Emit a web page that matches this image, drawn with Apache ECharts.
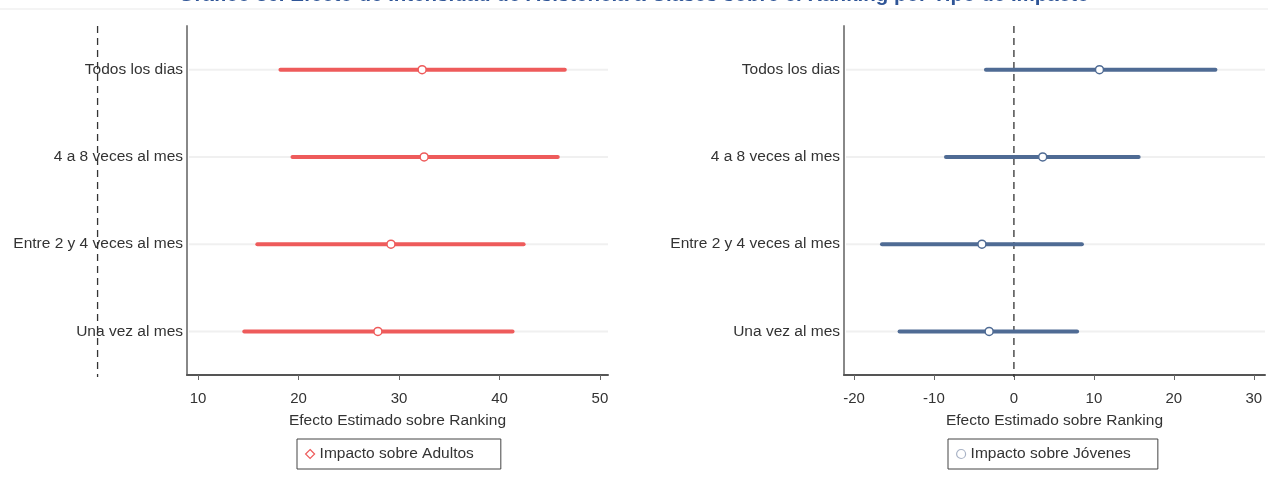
<!DOCTYPE html>
<html>
<head>
<meta charset="utf-8">
<script src="https://cdn.jsdelivr.net/npm/echarts@6/dist/echarts.min.js"></script>
<style>
  html, body { margin: 0; padding: 0; background: #fff; }
  #chart { width: 1268px; height: 481px; }
</style>
</head>
<body>
<div id="chart"></div>
<script>
// categorias de frecuencia
var categories = ['Todos los dias', '4 a 8 veces al mes', 'Entre 2 y 4 veces al mes', 'Una vez al mes']
// impacto sobre adultos (intervalo y estimado)
var adultosLow = [18.2, 19.4, 15.9, 14.6]
var adultosEst = [32.3, 32.5, 29.2, 27.9]
var adultosHigh = [46.5, 45.8, 42.4, 41.3]
// impacto sobre jovenes
var jovenesLow = [-3.5, -8.5, -16.5, -14.3]
var jovenesEst = [10.7, 3.6, -4.0, -3.1]
var jovenesHigh = [25.2, 15.6, 8.5, 7.9]
// etiquetas del eje
var adultosTicks = [10, 20, 30, 40, 50]
var jovenesTicks = [-20, -10, 0, 10, 20, 30]
var refValue = 0

var FONT = 'Liberation Sans, Arial, sans-serif'
var RED = '#EE5B5B'
var BLUE = '#4F6B94'

function ciData (low, high) {
  return categories.map(function (c, i) { return [low[i], high[i], c] })
}
function estData (est) {
  return categories.map(function (c, i) { return [est[i], c] })
}

// linea del intervalo + linea guia tenue
function ciItem (color) {
  return function (params, api) {
    var cs = params.coordSys
    var p1 = api.coord([api.value(0), api.value(2)])
    var p2 = api.coord([api.value(1), api.value(2)])
    return {
      type: 'group',
      children: [
        { type: 'line', shape: { x1: cs.x + 2, y1: p1[1], x2: cs.x + cs.width, y2: p1[1] }, style: { stroke: '#f0f0f0', lineWidth: 2 } },
        { type: 'line', shape: { x1: p1[0], y1: p1[1], x2: p2[0], y2: p2[1] }, style: { stroke: color, lineWidth: 4, lineCap: 'round' } }
      ]
    }
  }
}

// linea vertical punteada en 0
function refItem (params, api) {
  var cs = params.coordSys
  var p = api.coord([api.value(0), api.value(1)])
  return {
    type: 'line',
    shape: { x1: p[0], y1: cs.y, x2: p[0], y2: cs.y + cs.height + 2 },
    style: { stroke: '#333', lineWidth: 1.3, lineDash: [7, 5] }
  }
}

function xAxisOpt (idx, min, max, ticks) {
  return {
    type: 'value',
    gridIndex: idx,
    min: min,
    max: max,
    name: 'Efecto Estimado sobre Ranking',
    nameLocation: 'middle',
    nameGap: 38,
    nameTextStyle: { fontFamily: FONT, fontSize: 15.5, color: '#333' },
    axisLine: { show: true, lineStyle: { color: '#555', width: 2 } },
    axisTick: { show: true, length: 5, customValues: ticks, lineStyle: { color: '#666' } },
    axisLabel: { customValues: ticks, margin: 16, fontFamily: FONT, fontSize: 15, color: '#333' },
    splitLine: { show: false }
  }
}

function yAxisOpt (idx) {
  return {
    type: 'category',
    gridIndex: idx,
    data: categories,
    inverse: true,
    axisLine: { show: true, onZero: false, lineStyle: { color: '#888', width: 2 } },
    axisTick: { show: false },
    axisLabel: { margin: 4, fontFamily: FONT, fontSize: 15.5, color: '#333' },
    splitLine: { show: false }
  }
}

function legendOpt (name, left, icon, color) {
  return {
    data: [{ name: name, icon: icon, itemStyle: { color: '#fff', borderColor: color, borderWidth: 1.2 } }],
    left: left,
    top: 439,
    itemWidth: 9,
    itemHeight: 9,
    itemGap: 6,
    padding: [7, 27, 7, 8],
    borderColor: '#444',
    borderWidth: 1,
    textStyle: { fontFamily: FONT, fontSize: 15.5, color: '#333' }
  }
}

var chart = echarts.init(document.getElementById('chart'))
chart.setOption({
  backgroundColor: '#fff',
  animation: false,
  title: {
    text: 'Gráfico 36. Efecto de Intensidad de Asistencia a Clases sobre el Ranking por Tipo de Impacto',
    left: 'center',
    top: -20,
    textStyle: { fontFamily: FONT, fontSize: 20.5, fontWeight: 'bold', color: '#2F5597' }
  },
  graphic: [
    { type: 'rect', shape: { x: 0, y: 8, width: 1268, height: 2 }, style: { fill: '#f4f4f4' }, silent: true }
  ],
  grid: [
    { left: 187, top: 26, width: 421, height: 349 },
    { left: 844, top: 26, width: 421, height: 349 }
  ],
  xAxis: [
    xAxisOpt(0, 8.9, 50.8, adultosTicks),
    xAxisOpt(1, -21.25, 31.4, jovenesTicks)
  ],
  yAxis: [yAxisOpt(0), yAxisOpt(1)],
  legend: [
    legendOpt('Impacto sobre Adultos', 297, 'diamond', RED),
    legendOpt('Impacto sobre Jóvenes', 948, 'circle', '#A9B3C6')
  ],
  series: [
    {
      type: 'custom', name: 'ref-a', xAxisIndex: 0, yAxisIndex: 0, clip: false,
      renderItem: refItem, data: [[refValue, categories[0]]], encode: { x: 0, y: 1 }, silent: true, z: 1
    },
    {
      type: 'custom', name: 'ref-j', xAxisIndex: 1, yAxisIndex: 1, clip: false,
      renderItem: refItem, data: [[refValue, categories[0]]], encode: { x: 0, y: 1 }, silent: true, z: 1
    },
    {
      type: 'custom', name: 'ci-a', xAxisIndex: 0, yAxisIndex: 0,
      renderItem: ciItem(RED), data: ciData(adultosLow, adultosHigh), encode: { x: [0, 1], y: 2 }, z: 2
    },
    {
      type: 'custom', name: 'ci-j', xAxisIndex: 1, yAxisIndex: 1,
      renderItem: ciItem(BLUE), data: ciData(jovenesLow, jovenesHigh), encode: { x: [0, 1], y: 2 }, z: 2
    },
    {
      type: 'scatter', name: 'Impacto sobre Adultos', xAxisIndex: 0, yAxisIndex: 0,
      symbol: 'circle', symbolSize: 8,
      itemStyle: { color: '#fff', borderColor: RED, borderWidth: 1.5, opacity: 1 },
      data: estData(adultosEst), z: 3
    },
    {
      type: 'scatter', name: 'Impacto sobre Jóvenes', xAxisIndex: 1, yAxisIndex: 1,
      symbol: 'circle', symbolSize: 8,
      itemStyle: { color: '#fff', borderColor: BLUE, borderWidth: 1.5, opacity: 1 },
      data: estData(jovenesEst), z: 3
    }
  ]
})
</script>
</body>
</html>
